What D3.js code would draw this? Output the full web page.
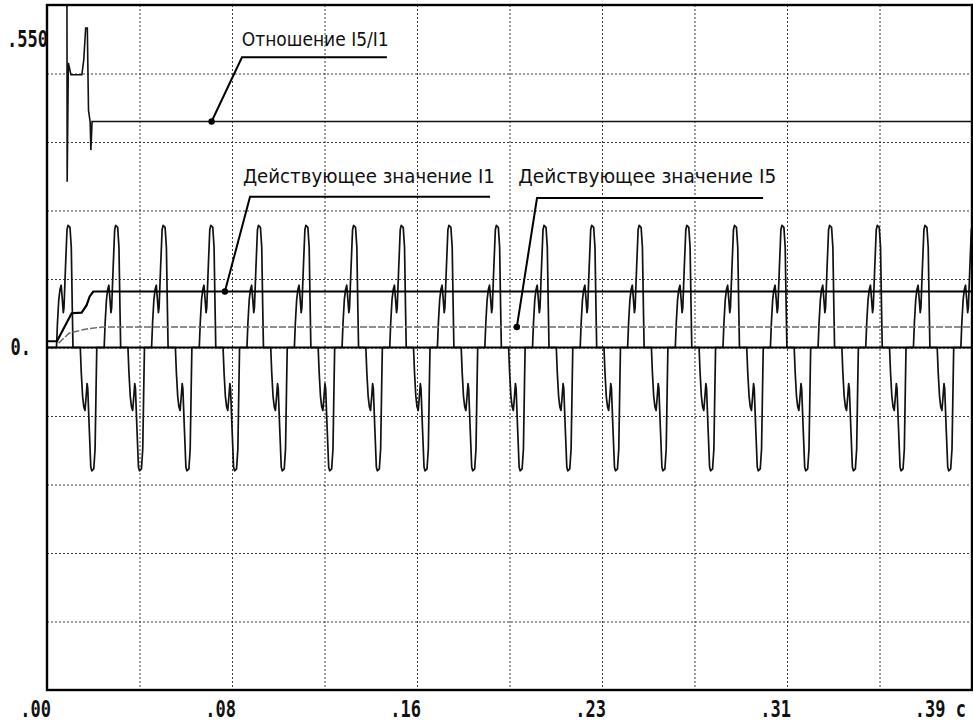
<!DOCTYPE html>
<html>
<head>
<meta charset="utf-8">
<script src="https://cdnjs.cloudflare.com/ajax/libs/d3/7.8.5/d3.min.js"></script>
<style>
  body { margin: 0; background: #fff; }
  .grid line { stroke: #3a3a3a; stroke-width: 1; stroke-dasharray: 2,2; }
  .axis-label { font-family: "DejaVu Sans Mono", monospace; font-weight: bold; font-size: 17px; fill: #111; }
  .note { font-family: "DejaVu Sans", sans-serif; font-size: 20px; fill: #111; }
</style>
</head>
<body>
<div id="graph"></div>
<script>
// time (s) where each positive pulse of the current starts
var cycleStarts = [0.0040, 0.0241, 0.0441, 0.0642, 0.0843, 0.1043, 0.1244, 0.1445, 0.1646, 0.1846,
                   0.2047, 0.2248, 0.2448, 0.2649, 0.2850, 0.3050, 0.3251, 0.3452, 0.3653, 0.3853];

// one period of the current, [offset s, value]
var periodShape = [
  [0.0000, 0], [0.00042, 0.040], [0.00097, 0.077], [0.00148, 0.093], [0.00198, 0.100],
  [0.00240, 0.080], [0.00287, 0.056], [0.00316, 0.064], [0.00379, 0.128], [0.00443, 0.189],
  [0.00485, 0.196], [0.00569, 0.193], [0.00624, 0.161], [0.00666, 0.064], [0.00696, 0],
  [0.01003, 0], [0.01045, -0.040], [0.01100, -0.078], [0.01151, -0.095], [0.01201, -0.101],
  [0.01243, -0.082], [0.01290, -0.058], [0.01319, -0.066], [0.01382, -0.130], [0.01446, -0.192],
  [0.01488, -0.198], [0.01572, -0.195], [0.01627, -0.163], [0.01669, -0.066], [0.01699, 0]
];

// rms of the fundamental
var rmsI1 = [[0, 0.010], [0.0042, 0.010], [0.0104, 0.055], [0.0146, 0.056], [0.0167, 0.068],
             [0.0180, 0.082], [0.0195, 0.0899], [0.39, 0.0899]];

// rms of the 5th harmonic
var rmsI5 = [[0.0049, 0.007], [0.0093, 0.023], [0.0156, 0.029], [0.0190, 0.031], [0.0236, 0.033],
             [0.39, 0.033]];

// ratio I5/I1
var ratioI5I1 = [[0.0084, 0.60], [0.0085, 0.266], [0.0090, 0.457], [0.0101, 0.438], [0.0147, 0.438],
                 [0.0155, 0.462], [0.0163, 0.513], [0.0170, 0.513], [0.0175, 0.381], [0.0182, 0.362],
                 [0.0185, 0.317], [0.0190, 0.363], [0.39, 0.363]];

var xGridTicks = [0, 0.039, 0.078, 0.117, 0.156, 0.195, 0.234, 0.273, 0.312, 0.351, 0.39];
var yGridTicks = [-0.55, -0.44, -0.33, -0.22, -0.11, 0, 0.11, 0.22, 0.33, 0.44, 0.55];
var xTickValues = [0, 0.078, 0.156, 0.234, 0.312, 0.39];
var xTickLabels = [".00", ".08", ".16", ".23", ".31", ".39 c"];
var yTickValues = [0.55, 0];
var yTickLabels = [".550", "0."];

var noteTexts = ["Отношение I5/I1", "Действующее значение I1", "Действующее значение I5"];
// [dot t, dot v, elbow t, elbow v, line end t, text t, text v]
var notePoints = [
  [0.0694, 0.363, 0.0822, 0.466, 0.1433, 0.0821, 0.484],
  [0.0750, 0.0899, 0.0856, 0.242, 0.1868, 0.0826, 0.264],
  [0.1981, 0.033, 0.2066, 0.240, 0.3019, 0.1987, 0.264]
];
var noteWidths = [147, 252, 258];

var margin = {top: 5, right: 1, bottom: 34, left: 47},
    width = 973 - margin.left - margin.right,
    height = 724 - margin.top - margin.bottom;

var x = d3.scaleLinear().domain([0, 0.39]).range([0, width]);
var y = d3.scaleLinear().domain([-0.55, 0.55]).range([height, 0]);

var svg = d3.select("#graph").append("svg")
    .attr("width", 973)
    .attr("height", 724)
  .append("g")
    .attr("transform", "translate(" + margin.left + "," + margin.top + ")");

svg.append("clipPath").attr("id", "plot-clip")
  .append("rect").attr("width", width).attr("height", height);

// dotted grid
svg.append("g").attr("class", "grid")
  .call(d3.axisBottom(x).tickValues(xGridTicks).tickSize(height).tickFormat(""))
  .call(function(g) { g.select(".domain").remove(); });
svg.append("g").attr("class", "grid")
  .call(d3.axisLeft(y).tickValues(yGridTicks).tickSize(-width).tickFormat(""))
  .call(function(g) { g.select(".domain").remove(); });

// build the current trace from the period template
var current = [[0, 0]];
cycleStarts.forEach(function(s) {
  periodShape.forEach(function(p) { current.push([s + p[0], p[1]]); });
});

var line = d3.line()
    .x(function(d) { return x(d[0]); })
    .y(function(d) { return y(d[1]); });

var plot = svg.append("g").attr("clip-path", "url(#plot-clip)");

plot.append("path").datum(current)
    .attr("fill", "none").attr("stroke", "#111").attr("stroke-width", 1.7)
    .attr("stroke-linejoin", "round").attr("d", line);

// zero line
plot.append("line")
    .attr("x1", 0).attr("x2", width).attr("y1", y(0)).attr("y2", y(0))
    .attr("stroke", "#000").attr("stroke-width", 2.2);

plot.append("path").datum(rmsI5)
    .attr("fill", "none").attr("stroke", "#6a6a6a").attr("stroke-width", 1.5)
    .attr("stroke-dasharray", "7,2").attr("d", line);

plot.append("path").datum(rmsI1)
    .attr("fill", "none").attr("stroke", "#000").attr("stroke-width", 2.2).attr("d", line);

plot.append("path").datum(ratioI5I1)
    .attr("fill", "none").attr("stroke", "#111").attr("stroke-width", 1.6).attr("d", line);

// frame
svg.append("rect")
    .attr("width", width).attr("height", height)
    .attr("fill", "none").attr("stroke", "#000").attr("stroke-width", 2.4);

// leaders and labels
notePoints.forEach(function(n, i) {
  svg.append("path")
      .attr("d", line([[n[0], n[1]], [n[2], n[3]], [n[4], n[3]]]))
      .attr("fill", "none").attr("stroke", "#000").attr("stroke-width", 2);
  svg.append("circle")
      .attr("cx", x(n[0])).attr("cy", y(n[1])).attr("r", 3.2).attr("fill", "#000");
  svg.append("text").attr("class", "note")
      .attr("x", x(n[5])).attr("y", y(n[6]))
      .attr("textLength", noteWidths[i]).attr("lengthAdjust", "spacingAndGlyphs")
      .text(noteTexts[i]);
});

// x labels
xTickValues.forEach(function(v, i) {
  var last = i === xTickValues.length - 1;
  svg.append("text").attr("class", "axis-label")
      .attr("transform", "translate(" + (x(v) + (last ? -6 : 4)) + "," + (height + 27) + ") scale(1,1.3)")
      .style("text-anchor", "end")
      .text(xTickLabels[i]);
});

// y labels
yTickValues.forEach(function(v, i) {
  var dy = i === 0 ? 42 : 7.5;
  var dx = i === 0 ? 1 : -16;
  svg.append("text").attr("class", "axis-label")
      .attr("transform", "translate(" + dx + "," + (y(v) + dy) + ") scale(1,1.3)")
      .style("text-anchor", "end")
      .text(yTickLabels[i]);
});
</script>
</body>
</html>
